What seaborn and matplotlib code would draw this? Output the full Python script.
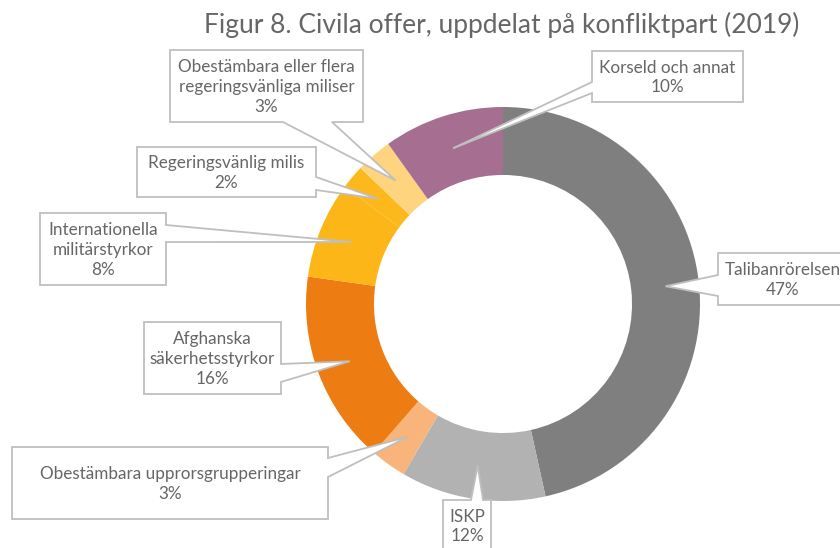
import numpy as np
import matplotlib.pyplot as plt
import seaborn as sns
from matplotlib.patches import Polygon

sns.set_theme(style='white')
plt.rcParams['font.family'] = ['Lato', 'DejaVu Sans']

# data, clockwise from 12 o'clock
parties = ['Talibanrörelsen', 'ISKP', 'Obestämbara upprorsgrupperingar',
           'Afghanska\nsäkerhetsstyrkor', 'Internationella\nmilitärstyrkor',
           'Regeringsvänlig milis',
           'Obestämbara eller flera\nregeringsvänliga miliser',
           'Korseld och annat']
shares = [47, 12, 3, 16, 8, 2, 3, 10]
colors = ['#7f7f7f', '#b2b2b2', '#f8b47a', '#ed7d13', '#fdb618',
          '#fdb81c', '#fed47f', '#a66f91']

# callout boxes in pixels: (x0, y0, x1, y1), side the pointer leaves from, pointer base
boxes = [
    ((718, 253, 848, 305), 'left', (275, 296)),
    ((443, 500, 491, 551), 'top', (471, 483)),
    ((12, 447, 328, 519), 'right', (458, 477)),
    ((144, 322, 281, 394), 'right', (364, 382)),
    ((40, 213, 166, 285), 'right', (225, 242)),
    ((137, 147, 316, 197), 'right', (177, 190)),
    ((170, 50, 363, 122), 'bottom', (283, 332)),
    ((592, 51, 743, 102), 'left', (82, 93)),
]

W, H = 840, 548
cx, cy, R = 503, 304, 197
txt_color = '#666666'
line_color = '#bfbfbf'

fig = plt.figure(figsize=(W / 100, H / 100), dpi=100)
ax = fig.add_axes([(cx - R) / W, (H - cy - R) / H, 2 * R / W, 2 * R / H])
wedges, _ = ax.pie(shares, colors=colors, startangle=90, counterclock=False,
                   radius=1, wedgeprops=dict(width=0.345, linewidth=0))
ax.set_xlim(-1, 1)
ax.set_ylim(-1, 1)
ax.axis('off')

ov = fig.add_axes([0, 0, 1, 1])
ov.set_xlim(0, W)
ov.set_ylim(H, 0)
ov.axis('off')
ov.patch.set_alpha(0)

for w, label, share, (box, side, base) in zip(wedges, parties, shares, boxes):
    mid = np.deg2rad((w.theta1 + w.theta2) / 2)
    tip = (cx + 0.83 * R * np.cos(mid), cy - 0.83 * R * np.sin(mid))
    x0, y0, x1, y1 = box
    a, b = base
    if side == 'right':
        pts = [(x0, y0), (x1, y0), (x1, a), tip, (x1, b), (x1, y1), (x0, y1)]
    elif side == 'left':
        pts = [(x0, y0), (x1, y0), (x1, y1), (x0, y1), (x0, b), tip, (x0, a)]
    elif side == 'bottom':
        pts = [(x0, y0), (x1, y0), (x1, y1), (b, y1), tip, (a, y1), (x0, y1)]
    else:
        pts = [(x0, y0), (a, y0), tip, (b, y0), (x1, y0), (x1, y1), (x0, y1)]
    ov.add_patch(Polygon(pts, closed=True, facecolor='white', edgecolor=line_color,
                         linewidth=1.3, joinstyle='miter'))
    ov.text((x0 + x1) / 2, (y0 + y1) / 2 + 1, f'{label}\n{share}%', ha='center', va='center',
            fontsize=12.3, color=txt_color, linespacing=1.3)

fig.text(502 / W, 1 - 25 / H, 'Figur 8. Civila offer, uppdelat på konfliktpart (2019)',
         ha='center', va='center', fontsize=19, color='#666666')

fig.savefig('out.png', dpi=100, facecolor='white')
